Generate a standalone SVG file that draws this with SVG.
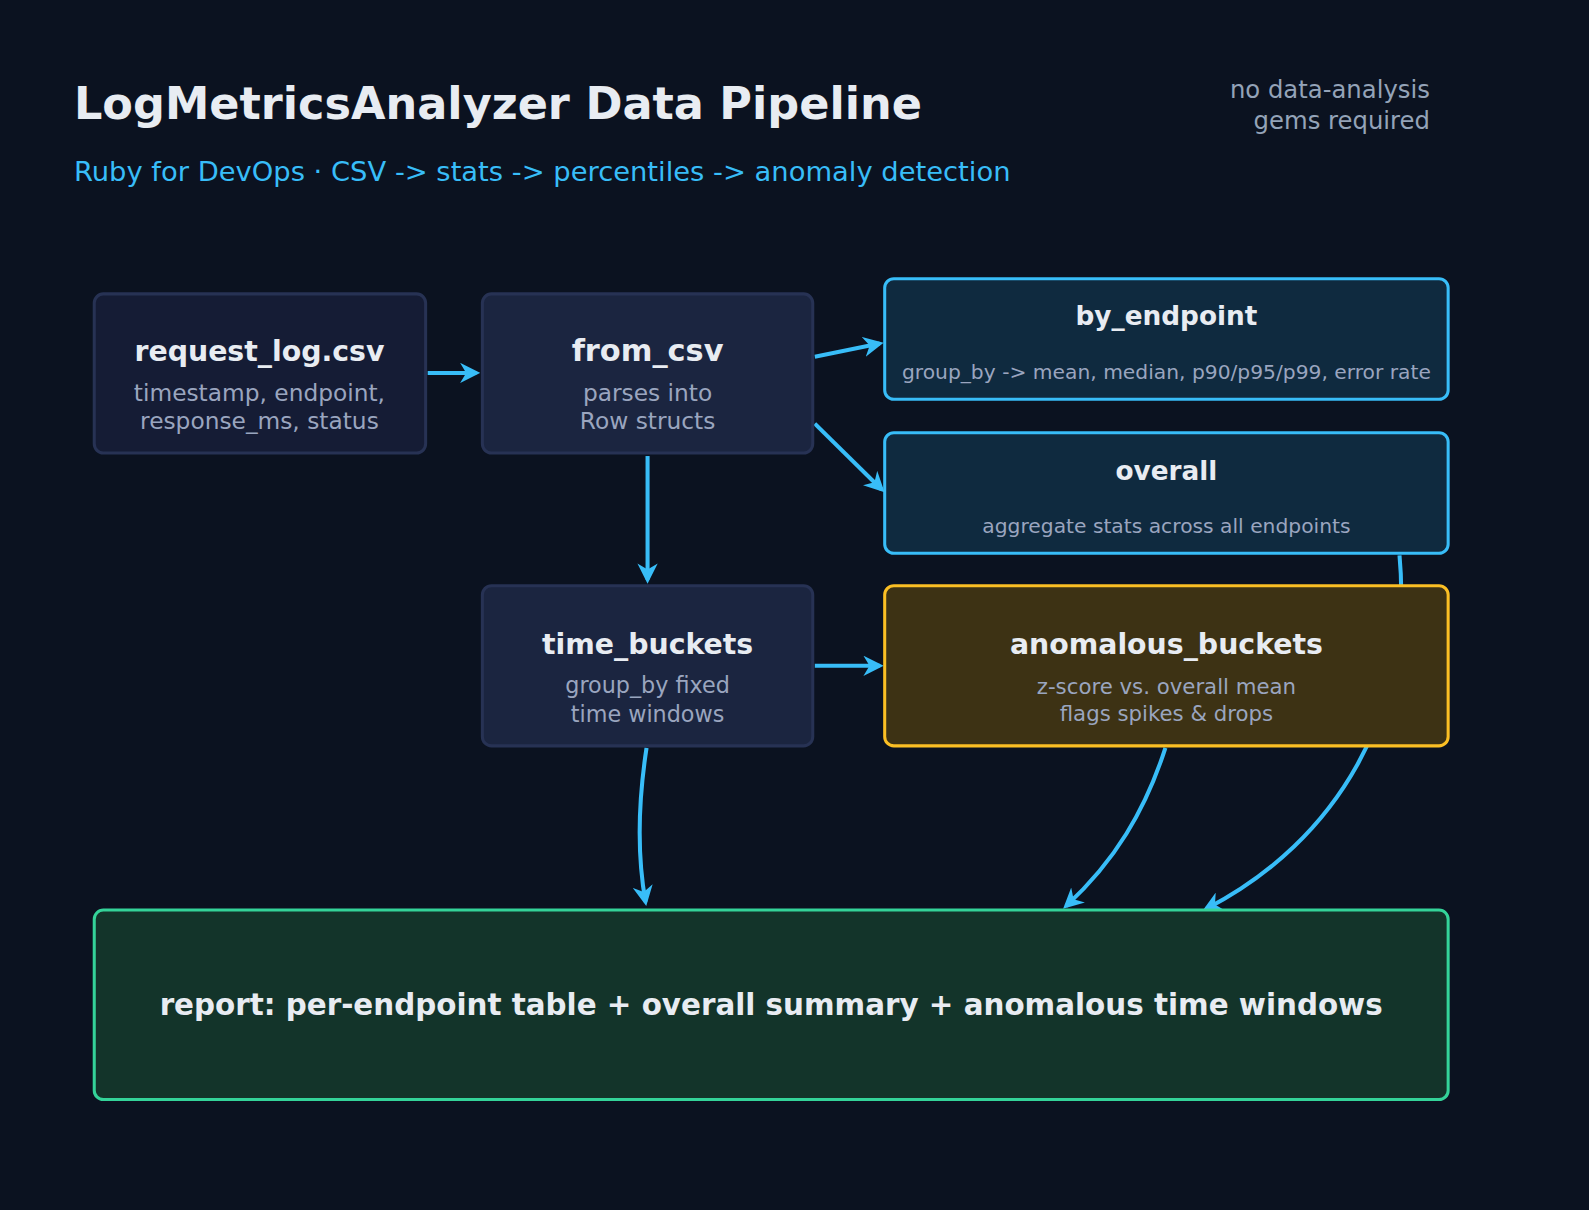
<svg xmlns="http://www.w3.org/2000/svg" width="1589" height="1210" viewBox="0 0 1589 1210">
<defs>
<style>
text{font-family:"DejaVu Sans","Noto Sans",sans-serif}
.t{fill:#e8ecf2;font-weight:bold;text-anchor:middle}
.s{fill:#9aa5bf;text-anchor:middle}
.c{fill:none;stroke:#38bdf8;stroke-width:4;marker-end:url(#a)}
</style>
<marker id="a" viewBox="0 0 10 10" refX="8" refY="5" markerWidth="5" markerHeight="5" orient="auto" markerUnits="strokeWidth">
<path d="M0,0 L10,5 L0,10 L3,5 z" fill="#38bdf8"/>
</marker>
</defs>
<rect width="1589" height="1210" fill="#0b1220"/>
<g transform="scale(1.0134)">
<text x="73" y="117" font-size="44" font-weight="bold" fill="#e8ecf2">LogMetricsAnalyzer Data Pipeline</text>
<text x="73" y="179" font-size="27" fill="#38bdf8">Ruby for DevOps · CSV -&gt; stats -&gt; percentiles -&gt; anomaly detection</text>
<text x="1411" y="97" font-size="24" fill="#94a3b8" text-anchor="end">no data-analysis</text>
<text x="1411" y="127" font-size="24" fill="#94a3b8" text-anchor="end">gems required</text>
<g id="connectors">
<path class="c" d="M422,368 L470,368"/>
<path class="c" d="M804,352 L868,339"/>
<path class="c" d="M804,418 L870,483"/>
<path class="c" d="M639,450 L639,572"/>
<path class="c" d="M804,657 L868,657"/>
<path class="c" d="M638,738 C630,790 628,840 637,890"/>
<path class="c" d="M1150,738 C1130,800 1100,850 1052,894"/>
<path class="c" d="M1381,548 C1395,700 1320,830 1190,897"/>
</g>
<g id="request_log">
<rect x="93" y="290" width="327" height="157" rx="9" fill="#151c35" stroke="#273254" stroke-width="3"/>
<text class="t" x="256" y="356" font-size="28">request_log.csv</text>
<text class="s" x="256" y="396" font-size="23">timestamp, endpoint,</text>
<text class="s" x="256" y="423" font-size="23">response_ms, status</text>
</g>
<g id="from_csv">
<rect x="476" y="290" width="326" height="157" rx="9" fill="#1b2540" stroke="#273254" stroke-width="3"/>
<text class="t" x="639" y="356" font-size="30">from_csv</text>
<text class="s" x="639" y="396" font-size="23">parses into</text>
<text class="s" x="639" y="423" font-size="23">Row structs</text>
</g>
<g id="by_endpoint">
<rect x="873" y="275" width="556" height="119" rx="9" fill="#0f2a3f" stroke="#38bdf8" stroke-width="3"/>
<text class="t" x="1151" y="321" font-size="26">by_endpoint</text>
<text class="s" x="1151" y="374" font-size="20">group_by -&gt; mean, median, p90/p95/p99, error rate</text>
</g>
<g id="overall">
<rect x="873" y="427" width="556" height="119" rx="9" fill="#0f2a3f" stroke="#38bdf8" stroke-width="3"/>
<text class="t" x="1151" y="474" font-size="26">overall</text>
<text class="s" x="1151" y="526" font-size="20">aggregate stats across all endpoints</text>
</g>
<g id="time_buckets">
<rect x="476" y="578" width="326" height="158" rx="9" fill="#1b2540" stroke="#273254" stroke-width="3"/>
<text class="t" x="639" y="645" font-size="28">time_buckets</text>
<text class="s" x="639" y="684" font-size="22">group_by fixed</text>
<text class="s" x="639" y="712" font-size="22">time windows</text>
</g>
<g id="anomalous_buckets">
<rect x="873" y="578" width="556" height="158" rx="9" fill="#3d3214" stroke="#fbbf24" stroke-width="3"/>
<text class="t" x="1151" y="645" font-size="28">anomalous_buckets</text>
<text class="s" x="1151" y="685" font-size="21">z-score vs. overall mean</text>
<text class="s" x="1151" y="711" font-size="21">flags spikes &amp; drops</text>
</g>
<g id="report">
<rect x="93" y="898" width="1336" height="187" rx="9" fill="#13342a" stroke="#34d399" stroke-width="3"/>
<text class="t" x="761" y="1002" font-size="29">report: per-endpoint table + overall summary + anomalous time windows</text>
</g>
</g>
</svg>
